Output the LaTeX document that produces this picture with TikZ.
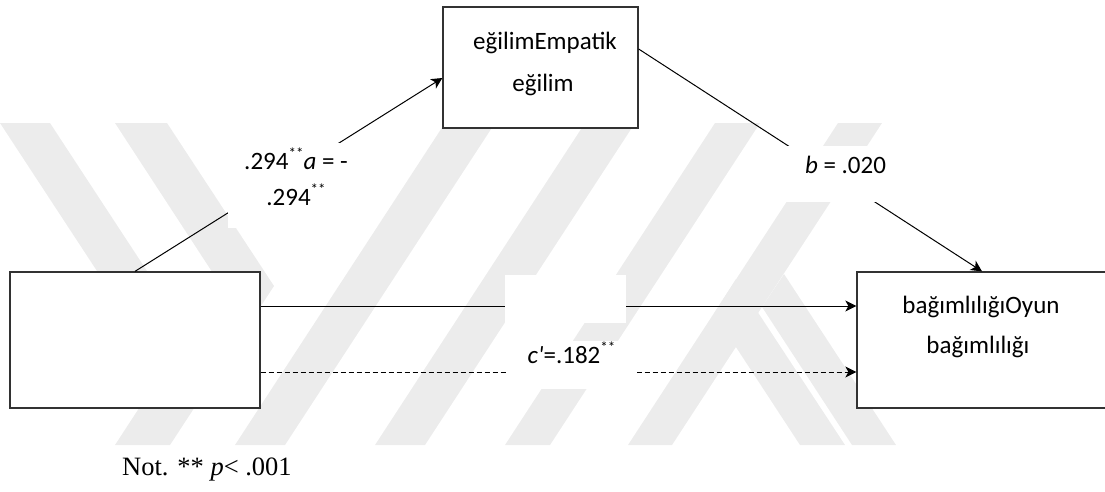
\documentclass[tikz,border=0pt]{standalone}
\usepackage{fontspec}
\newfontfamily\calfont{Carlito}
\newfontfamily\serffont{Liberation Serif}
\usetikzlibrary{arrows.meta}
\definecolor{wmgray}{RGB}{236,236,236}
\definecolor{boxline}{RGB}{50,50,50}
% raised double asterisk
\newcommand\sstar{\raisebox{11pt}{\fontsize{15}{15}\selectfont **}}

\begin{document}
\begin{tikzpicture}[x=1pt,y=-1pt,
  box/.style={draw=boxline, line width=1.3pt, fill=white, inner sep=0pt},
  conn/.style={line width=1pt, -{Stealth[length=11pt,width=11pt,inset=3pt]}},
  dashconn/.style={conn, dash pattern=on 5pt off 3pt},
  mask/.style={fill=white, inner sep=0pt},
  txt/.style={font=\calfont\fontsize{25}{30}\selectfont, inner sep=0pt, anchor=base}]
\useasboundingbox (0,0) rectangle (1105,491);

% background band pattern
\begin{scope}
  \clip (0,123) rectangle (1105,445);
  \fill[wmgray] (0,123) -- (50,123) -- (166,300) -- (116,300) -- cycle;
  \fill[wmgray] (115,123) -- (167,123) -- (274,286) -- (170,445) -- (115,445) -- (220,284) -- cycle;
  \fill[wmgray] (235,445) -- (285,445) -- (495,123) -- (445,123) -- cycle;
  \fill[wmgray] (375,445) -- (425,445) -- (635,123) -- (585,123) -- cycle;
  \fill[wmgray] (505,445) -- (550,445) -- (760,123) -- (715,123) -- cycle;
  \fill[wmgray] (628,445) -- (672,445) -- (882,123) -- (838,123) -- cycle;
  \fill[wmgray] (762,307) -- (784,274) -- (896,445) -- (852,445) -- cycle;
  \fill[wmgray] (714,313.5) -- (736,279) -- (845,445) -- (800,445) -- cycle;
\end{scope}

% boxes
\node[box, minimum width=195pt, minimum height=121pt] (med) at (540.5,67.5) {};
\node[box, minimum width=250pt, minimum height=136pt] (pred) at (135,340) {};
\node[box, minimum width=250pt, minimum height=136pt] (out) at (982,340) {};

\node[txt] (medA) at (545,49) {eğilimEmpatik};
\node[txt] (medB) at (543,91) {eğilim};
\node[txt] (outA) at (981,313) {bağımlılığıOyun};
\node[txt] (outB) at (978,353) {bağımlılığı};

% paths
\draw[conn] (pred.north) -- ([yshift=-10.5pt]med.west);
\draw[conn] ([yshift=18.5pt]med.east) -- (out.north);
\draw[conn] ([yshift=34pt]pred.east) -- ([yshift=34pt]out.west);
\draw[dashconn] ([yshift=-32pt]pred.east) -- ([yshift=-32pt]out.west);

% coefficient labels
\node[mask, minimum width=137pt, minimum height=85pt] (la) at (296.5,185.5) {};
\node[txt] (la1) at (296,169) {.294\sstar\textit{a} = -};
\node[txt] (la2) at (296,205) {.294\sstar};

\node[mask, minimum width=127pt, minimum height=56pt] (lb) at (845.5,174) {};
\node[txt] (lb1) at (845.5,173) {\textit{b} = .020};

\node[mask, minimum width=121pt, minimum height=48pt] (lc) at (565.5,299) {};

\node[mask, minimum width=129pt, minimum height=48pt] (lcp) at (572.5,365) {};
\node[txt] (lcp1) at (571.5,363) {\textit{c'}=.182\sstar};

% note
\node[font=\serffont\fontsize{26.5}{30}\selectfont, anchor=base west, inner sep=0pt] (note) at (122,475) {Not. ** \textit{p}< .001};
\end{tikzpicture}
\end{document}
